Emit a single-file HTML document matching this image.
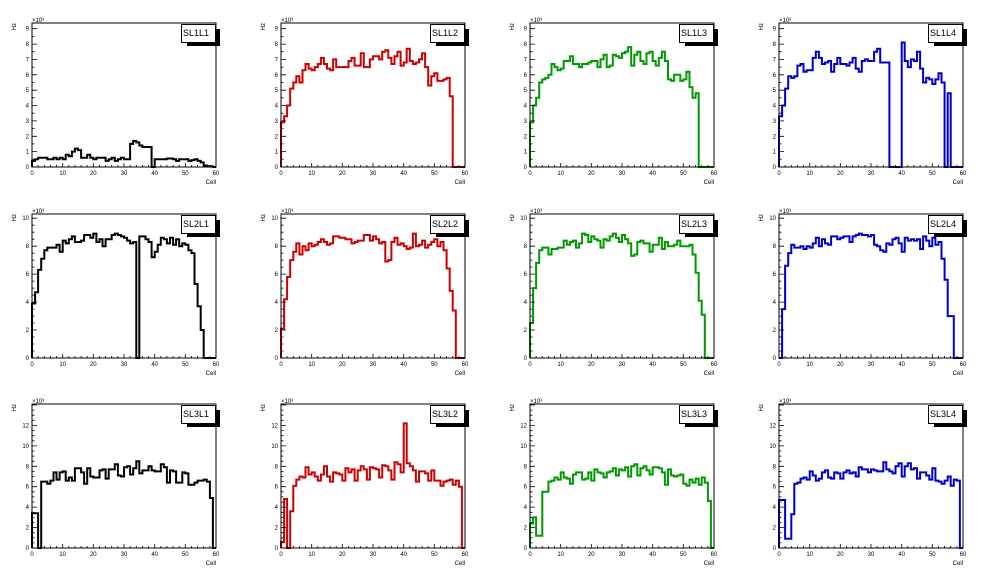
<!DOCTYPE html>
<html><head><meta charset="utf-8"><style>
html,body{margin:0;padding:0;background:#fff}
svg{display:block}
text{font-family:"Liberation Sans",sans-serif;fill:#000}
.t{font-size:6px}
.tl{font-size:6px;text-anchor:end}
.tc{font-size:6px;text-anchor:middle}
.lg{font-size:9px}
</style></head><body>
<svg id="s" width="996" height="572" xmlns="http://www.w3.org/2000/svg">
<rect width="996" height="572" fill="#fff"/>
<!-- Row 1 -->
<g transform="translate(32,23)"><g id="p0"></g>
<text class="tl" x="-3" y="146">0</text><text class="tl" x="-3" y="130.6">1</text><text class="tl" x="-3" y="115.3">2</text><text class="tl" x="-3" y="99.9">3</text><text class="tl" x="-3" y="84.5">4</text><text class="tl" x="-3" y="69.2">5</text><text class="tl" x="-3" y="53.8">6</text><text class="tl" x="-3" y="38.4">7</text><text class="tl" x="-3" y="23">8</text><text class="tl" x="-3" y="7.7">9</text>
<text class="tc" x="0" y="152">0</text><text class="tc" x="30.7" y="152">10</text><text class="tc" x="61.3" y="152">20</text><text class="tc" x="92" y="152">30</text><text class="tc" x="122.7" y="152">40</text><text class="tc" x="153.3" y="152">50</text><text class="tc" x="184" y="152">60</text>
<text class="tl" x="184" y="161">Cell</text><text class="t" x="0" y="-1">×10³</text><text class="tl" transform="translate(-16,0) rotate(-90)">Hz</text>
<text class="lg" x="151" y="13">SL1L1</text></g>
<g transform="translate(281,23)"><g id="p1"></g>
<text class="tl" x="-3" y="146">0</text><text class="tl" x="-3" y="130.6">1</text><text class="tl" x="-3" y="115.3">2</text><text class="tl" x="-3" y="99.9">3</text><text class="tl" x="-3" y="84.5">4</text><text class="tl" x="-3" y="69.2">5</text><text class="tl" x="-3" y="53.8">6</text><text class="tl" x="-3" y="38.4">7</text><text class="tl" x="-3" y="23">8</text><text class="tl" x="-3" y="7.7">9</text>
<text class="tc" x="0" y="152">0</text><text class="tc" x="30.7" y="152">10</text><text class="tc" x="61.3" y="152">20</text><text class="tc" x="92" y="152">30</text><text class="tc" x="122.7" y="152">40</text><text class="tc" x="153.3" y="152">50</text><text class="tc" x="184" y="152">60</text>
<text class="tl" x="184" y="161">Cell</text><text class="t" x="0" y="-1">×10³</text><text class="tl" transform="translate(-16,0) rotate(-90)">Hz</text>
<text class="lg" x="151" y="13">SL1L2</text></g>
<g transform="translate(530,23)"><g id="p2"></g>
<text class="tl" x="-3" y="146">0</text><text class="tl" x="-3" y="130.6">1</text><text class="tl" x="-3" y="115.3">2</text><text class="tl" x="-3" y="99.9">3</text><text class="tl" x="-3" y="84.5">4</text><text class="tl" x="-3" y="69.2">5</text><text class="tl" x="-3" y="53.8">6</text><text class="tl" x="-3" y="38.4">7</text><text class="tl" x="-3" y="23">8</text><text class="tl" x="-3" y="7.7">9</text>
<text class="tc" x="0" y="152">0</text><text class="tc" x="30.7" y="152">10</text><text class="tc" x="61.3" y="152">20</text><text class="tc" x="92" y="152">30</text><text class="tc" x="122.7" y="152">40</text><text class="tc" x="153.3" y="152">50</text><text class="tc" x="184" y="152">60</text>
<text class="tl" x="184" y="161">Cell</text><text class="t" x="0" y="-1">×10³</text><text class="tl" transform="translate(-16,0) rotate(-90)">Hz</text>
<text class="lg" x="151" y="13">SL1L3</text></g>
<g transform="translate(779,23)"><g id="p3"></g>
<text class="tl" x="-3" y="146">0</text><text class="tl" x="-3" y="130.6">1</text><text class="tl" x="-3" y="115.3">2</text><text class="tl" x="-3" y="99.9">3</text><text class="tl" x="-3" y="84.5">4</text><text class="tl" x="-3" y="69.2">5</text><text class="tl" x="-3" y="53.8">6</text><text class="tl" x="-3" y="38.4">7</text><text class="tl" x="-3" y="23">8</text><text class="tl" x="-3" y="7.7">9</text>
<text class="tc" x="0" y="152">0</text><text class="tc" x="30.7" y="152">10</text><text class="tc" x="61.3" y="152">20</text><text class="tc" x="92" y="152">30</text><text class="tc" x="122.7" y="152">40</text><text class="tc" x="153.3" y="152">50</text><text class="tc" x="184" y="152">60</text>
<text class="tl" x="184" y="161">Cell</text><text class="t" x="0" y="-1">×10³</text><text class="tl" transform="translate(-16,0) rotate(-90)">Hz</text>
<text class="lg" x="151" y="13">SL1L4</text></g>
<!-- Row 2 -->
<g transform="translate(32,214)"><g id="p4"></g>
<text class="tl" x="-3" y="146">0</text><text class="tl" x="-3" y="118">2</text><text class="tl" x="-3" y="90.1">4</text><text class="tl" x="-3" y="62.1">6</text><text class="tl" x="-3" y="34.2">8</text><text class="tl" x="-3" y="6.2">10</text>
<text class="tc" x="0" y="152">0</text><text class="tc" x="30.7" y="152">10</text><text class="tc" x="61.3" y="152">20</text><text class="tc" x="92" y="152">30</text><text class="tc" x="122.7" y="152">40</text><text class="tc" x="153.3" y="152">50</text><text class="tc" x="184" y="152">60</text>
<text class="tl" x="184" y="161">Cell</text><text class="t" x="0" y="-1">×10³</text><text class="tl" transform="translate(-16,0) rotate(-90)">Hz</text>
<text class="lg" x="151" y="13">SL2L1</text></g>
<g transform="translate(281,214)"><g id="p5"></g>
<text class="tl" x="-3" y="146">0</text><text class="tl" x="-3" y="118">2</text><text class="tl" x="-3" y="90.1">4</text><text class="tl" x="-3" y="62.1">6</text><text class="tl" x="-3" y="34.2">8</text><text class="tl" x="-3" y="6.2">10</text>
<text class="tc" x="0" y="152">0</text><text class="tc" x="30.7" y="152">10</text><text class="tc" x="61.3" y="152">20</text><text class="tc" x="92" y="152">30</text><text class="tc" x="122.7" y="152">40</text><text class="tc" x="153.3" y="152">50</text><text class="tc" x="184" y="152">60</text>
<text class="tl" x="184" y="161">Cell</text><text class="t" x="0" y="-1">×10³</text><text class="tl" transform="translate(-16,0) rotate(-90)">Hz</text>
<text class="lg" x="151" y="13">SL2L2</text></g>
<g transform="translate(530,214)"><g id="p6"></g>
<text class="tl" x="-3" y="146">0</text><text class="tl" x="-3" y="118">2</text><text class="tl" x="-3" y="90.1">4</text><text class="tl" x="-3" y="62.1">6</text><text class="tl" x="-3" y="34.2">8</text><text class="tl" x="-3" y="6.2">10</text>
<text class="tc" x="0" y="152">0</text><text class="tc" x="30.7" y="152">10</text><text class="tc" x="61.3" y="152">20</text><text class="tc" x="92" y="152">30</text><text class="tc" x="122.7" y="152">40</text><text class="tc" x="153.3" y="152">50</text><text class="tc" x="184" y="152">60</text>
<text class="tl" x="184" y="161">Cell</text><text class="t" x="0" y="-1">×10³</text><text class="tl" transform="translate(-16,0) rotate(-90)">Hz</text>
<text class="lg" x="151" y="13">SL2L3</text></g>
<g transform="translate(779,214)"><g id="p7"></g>
<text class="tl" x="-3" y="146">0</text><text class="tl" x="-3" y="118">2</text><text class="tl" x="-3" y="90.1">4</text><text class="tl" x="-3" y="62.1">6</text><text class="tl" x="-3" y="34.2">8</text><text class="tl" x="-3" y="6.2">10</text>
<text class="tc" x="0" y="152">0</text><text class="tc" x="30.7" y="152">10</text><text class="tc" x="61.3" y="152">20</text><text class="tc" x="92" y="152">30</text><text class="tc" x="122.7" y="152">40</text><text class="tc" x="153.3" y="152">50</text><text class="tc" x="184" y="152">60</text>
<text class="tl" x="184" y="161">Cell</text><text class="t" x="0" y="-1">×10³</text><text class="tl" transform="translate(-16,0) rotate(-90)">Hz</text>
<text class="lg" x="151" y="13">SL2L4</text></g>
<!-- Row 3 -->
<g transform="translate(32,404)"><g id="p8"></g>
<text class="tl" x="-3" y="146">0</text><text class="tl" x="-3" y="125.6">2</text><text class="tl" x="-3" y="105.2">4</text><text class="tl" x="-3" y="84.7">6</text><text class="tl" x="-3" y="64.3">8</text><text class="tl" x="-3" y="43.9">10</text><text class="tl" x="-3" y="23.5">12</text>
<text class="tc" x="0" y="152">0</text><text class="tc" x="30.7" y="152">10</text><text class="tc" x="61.3" y="152">20</text><text class="tc" x="92" y="152">30</text><text class="tc" x="122.7" y="152">40</text><text class="tc" x="153.3" y="152">50</text><text class="tc" x="184" y="152">60</text>
<text class="tl" x="184" y="161">Cell</text><text class="t" x="0" y="-1">×10³</text><text class="tl" transform="translate(-16,0) rotate(-90)">Hz</text>
<text class="lg" x="151" y="13">SL3L1</text></g>
<g transform="translate(281,404)"><g id="p9"></g>
<text class="tl" x="-3" y="146">0</text><text class="tl" x="-3" y="125.6">2</text><text class="tl" x="-3" y="105.2">4</text><text class="tl" x="-3" y="84.7">6</text><text class="tl" x="-3" y="64.3">8</text><text class="tl" x="-3" y="43.9">10</text><text class="tl" x="-3" y="23.5">12</text>
<text class="tc" x="0" y="152">0</text><text class="tc" x="30.7" y="152">10</text><text class="tc" x="61.3" y="152">20</text><text class="tc" x="92" y="152">30</text><text class="tc" x="122.7" y="152">40</text><text class="tc" x="153.3" y="152">50</text><text class="tc" x="184" y="152">60</text>
<text class="tl" x="184" y="161">Cell</text><text class="t" x="0" y="-1">×10³</text><text class="tl" transform="translate(-16,0) rotate(-90)">Hz</text>
<text class="lg" x="151" y="13">SL3L2</text></g>
<g transform="translate(530,404)"><g id="p10"></g>
<text class="tl" x="-3" y="146">0</text><text class="tl" x="-3" y="125.6">2</text><text class="tl" x="-3" y="105.2">4</text><text class="tl" x="-3" y="84.7">6</text><text class="tl" x="-3" y="64.3">8</text><text class="tl" x="-3" y="43.9">10</text><text class="tl" x="-3" y="23.5">12</text>
<text class="tc" x="0" y="152">0</text><text class="tc" x="30.7" y="152">10</text><text class="tc" x="61.3" y="152">20</text><text class="tc" x="92" y="152">30</text><text class="tc" x="122.7" y="152">40</text><text class="tc" x="153.3" y="152">50</text><text class="tc" x="184" y="152">60</text>
<text class="tl" x="184" y="161">Cell</text><text class="t" x="0" y="-1">×10³</text><text class="tl" transform="translate(-16,0) rotate(-90)">Hz</text>
<text class="lg" x="151" y="13">SL3L3</text></g>
<g transform="translate(779,404)"><g id="p11"></g>
<text class="tl" x="-3" y="146">0</text><text class="tl" x="-3" y="125.6">2</text><text class="tl" x="-3" y="105.2">4</text><text class="tl" x="-3" y="84.7">6</text><text class="tl" x="-3" y="64.3">8</text><text class="tl" x="-3" y="43.9">10</text><text class="tl" x="-3" y="23.5">12</text>
<text class="tc" x="0" y="152">0</text><text class="tc" x="30.7" y="152">10</text><text class="tc" x="61.3" y="152">20</text><text class="tc" x="92" y="152">30</text><text class="tc" x="122.7" y="152">40</text><text class="tc" x="153.3" y="152">50</text><text class="tc" x="184" y="152">60</text>
<text class="tl" x="184" y="161">Cell</text><text class="t" x="0" y="-1">×10³</text><text class="tl" transform="translate(-16,0) rotate(-90)">Hz</text>
<text class="lg" x="151" y="13">SL3L4</text></g>
</svg>
<script>
var NS="http://www.w3.org/2000/svg";
var W=184,H=144;
var ymaxR=[9.37,10.3,14.1];
var cols=["#000000","#cc0000","#009900","#0000cc"];
var D=[
{n:60,lead:0,v:[0.4,0.5,0.6,0.6,0.6,0.5,0.5,0.6,0.5,0.6,0.5,0.8,0.7,1.0,1.2,1.1,0.6,0.6,0.8,0.6,0.5,0.6,0.6,0.6,0.4,0.5,0.6,0.4,0.5,0.6,0.5,0.5,1.5,1.7,1.6,1.4,1.3,1.3,1.3,0,0.5,0.5,0.5,0.5,0.55,0.55,0.5,0.4,0.5,0.5,0.5,0.4,0.45,0.5,0.4,0.3,0.1,0.05,0.05,0]},
{n:56,lead:0,v:[2.9,3.3,4.0,5.1,5.5,5.9,5.5,6.3,6.7,6.4,6.3,6.5,6.7,7.1,6.7,6.4,6.3,7.0,6.5,6.5,6.5,6.5,6.9,7.1,6.6,6.6,7.4,6.5,6.5,7.0,7.2,7.2,7.0,7.5,7.6,7.1,6.7,7.2,7.5,6.6,6.8,7.7,6.9,6.7,6.8,7.0,7.4,6.5,5.3,5.9,6.1,5.6,5.6,5.7,5.8,4.6,4.6]},
{n:55,lead:0,v:[2.9,4.0,4.5,5.5,5.7,5.8,6.0,6.7,6.5,6.3,6.4,6.9,6.9,7.2,6.7,6.7,6.5,6.7,6.7,6.8,6.9,6.9,6.5,7.0,7.3,6.5,6.6,7.3,7.2,7.1,7.4,7.5,7.8,6.6,7.3,7.5,6.9,6.7,7.4,7.5,6.9,6.6,7.1,7.5,6.9,5.7,5.6,6.0,6.0,5.6,5.7,6.2,5.2,4.5,4.8]},
{n:56,lead:0,v:[3.3,4.0,5.1,5.9,5.8,5.9,6.6,6.7,6.2,6.3,6.3,7.1,7.5,7.1,6.7,6.8,6.9,6.2,6.7,7.1,6.7,6.7,6.6,6.8,7.1,6.4,6.2,6.9,7.0,6.9,6.9,7.5,7.7,6.8,6.8,6.8,0,0,0,0,8.1,6.9,6.5,7.0,6.9,7.5,6.4,5.5,5.8,5.7,5.4,5.7,6.1,5.5,0,4.8]},
{n:56,lead:0,v:[3.9,4.7,6.3,7.1,7.7,7.9,7.9,7.9,8.1,7.6,8.4,8.2,8.5,8.7,8.3,8.3,8.4,8.8,8.8,8.6,8.9,8.3,8.5,8.0,8.5,8.5,8.8,8.9,8.8,8.7,8.6,8.4,8.2,8.3,0,8.7,8.7,8.5,8.3,7.2,7.6,8.1,8.6,8.5,8.2,8.6,8.1,8.5,8.0,8.2,8.1,7.7,7.5,5.3,3.7,2.0]},
{n:57,lead:0,v:[2.1,4.2,5.8,7.0,7.6,8.2,7.4,8.0,7.7,8.2,8.0,8.1,8.3,8.5,8.3,8.1,8.2,8.7,8.7,8.6,8.6,8.5,8.5,8.2,8.3,8.4,8.4,8.8,8.8,8.4,8.7,8.5,8.2,8.3,6.9,7.0,8.3,8.6,8.1,8.2,8.0,7.8,7.9,8.9,8.0,8.1,8.4,7.9,8.1,8.3,8.5,8.0,8.3,7.7,6.4,4.8,3.4]},
{n:57,lead:0,v:[2.5,5.0,6.8,7.7,7.9,7.9,7.4,7.8,7.8,7.9,7.9,8.4,8.1,8.3,8.4,7.9,8.2,8.9,8.8,8.3,8.7,8.5,8.4,7.9,8.5,8.4,8.7,8.9,8.6,8.3,8.8,8.5,8.2,7.3,7.4,8.3,8.4,8.2,8.2,7.6,8.1,8.1,8.6,7.8,8.3,8.0,8.0,8.1,8.4,8.0,8.0,8.0,8.1,7.4,6.1,4.1,3.1]},
{n:57,lead:0,v:[0,3.5,6.6,7.5,8.1,7.9,7.9,8.0,7.8,8.0,7.9,8.2,8.6,8.0,8.5,8.2,8.1,8.7,8.7,8.5,8.6,8.7,8.7,8.3,8.7,8.8,8.9,8.8,8.8,8.7,8.8,8.1,8.0,7.7,7.6,8.2,8.1,8.5,8.6,8.2,7.6,8.6,8.4,8.5,8.4,8.5,7.8,8.7,8.4,8.0,8.6,8.1,8.3,7.1,5.6,3.0,3.0]},
{n:59,lead:3,v:[3.4,3.4,0,6.5,6.3,6.6,7.4,6.7,7.4,7.5,6.6,6.9,6.6,7.8,7.4,6.3,7.8,7.0,6.9,6.9,7.6,7.7,6.8,7.7,8.2,7.1,7.0,7.9,8.0,7.2,7.8,8.5,7.3,7.6,8.0,7.6,7.5,7.5,8.2,7.9,6.4,7.6,7.5,6.4,7.4,7.3,6.2,6.2,6.4,6.6,6.6,6.7,6.5,4.9]},
{n:59,lead:0,v:[0.6,4.8,0,3.6,6.1,6.7,7.0,6.9,7.9,7.2,7.4,7.0,6.6,7.2,8.0,7.0,6.5,7.4,7.3,7.2,6.6,7.8,7.4,7.7,6.6,7.6,8.0,7.7,6.7,7.9,7.8,7.7,6.9,8.1,8.0,7.6,6.7,8.4,8.2,7.4,12.2,8.3,8.0,7.6,6.5,7.5,7.5,7.3,6.6,7.6,6.6,6.6,6.1,6.5,6.6,6.7,6.2,6.6,6.0]},
{n:59,lead:4,v:[2.4,3.0,1.2,1.2,5.5,6.5,6.6,6.9,6.7,7.4,6.9,6.8,6.3,7.2,7.4,7.4,6.7,6.8,7.4,6.6,7.7,7.4,7.3,6.9,7.4,7.5,7.8,7.1,7.7,7.6,7.9,7.0,8.0,8.2,7.1,7.8,8.0,7.6,7.2,7.9,7.9,7.8,7.4,6.2,7.7,7.1,7.0,7.1,7.2,6.3,6.1,6.7,6.4,6.8,6.2,6.9,6.4,4.6]},
{n:59,lead:4,v:[4.7,4.7,0.9,0.9,3.3,6.3,6.4,6.8,6.9,6.7,7.5,7.1,6.6,6.8,7.4,7.6,6.9,6.8,7.4,7.3,6.8,7.4,7.6,7.3,7.4,7.0,7.9,7.7,7.7,7.4,7.7,7.6,7.5,7.5,8.4,7.7,7.5,7.3,8.0,8.3,7.0,8.0,8.3,7.7,7.8,6.8,7.4,7.4,7.1,6.7,7.8,6.6,6.5,6.3,6.6,7.0,6.1,6.7,6.6,5.6]}
];
function el(t,a,p){var e=document.createElementNS(NS,t);for(var k in a)e.setAttribute(k,a[k]);p.appendChild(e);return e;}
for(var i=0;i<12;i++){
 var g=document.getElementById("p"+i),r=Math.floor(i/4),c=i%4,ym=ymaxR[r];
 var d=D[i],src=d.v,n=d.n,ld=d.lead,vals=[];
 var body=src.slice(ld),nb=n-ld;
 for(var b=0;b<60;b++){
  if(b<ld) vals.push(src[b]);
  else if(b<n){ var k=b-ld; vals.push(body.length==nb?body[k]:body[Math.min(body.length-1,Math.floor(k*body.length/nb))]); }
  else vals.push(0);
 }
 var Y=function(v){return H-Math.min(v,ym)*H/ym;};
 var X=function(x){return x*W/60;};
 var p="M0,"+H;
 for(var b=0;b<60;b++){ p+=" V"+Y(vals[b]).toFixed(1)+" H"+X(b+1).toFixed(1); }
 p+=" V"+H;
 el("path",{d:p,fill:"none",stroke:cols[c],"stroke-width":2,"stroke-linejoin":"miter"},g);
 var tk="";
 for(var x=0;x<=60;x+=2){var L=(x%10==0)?4:2;tk+="M"+X(x).toFixed(1)+","+H+"v-"+L;}
 var maj=(r==0)?1:2,mn=0.5;
 for(var v=0;v<=ym+1e-6;v+=mn){var isM=Math.abs(v/maj-Math.round(v/maj))<1e-6;tk+="M0,"+Y(v).toFixed(1)+"h"+(isM?5:2.5);}
 el("path",{d:tk,fill:"none",stroke:"#000","stroke-width":0.8},g);
 el("rect",{x:0,y:0,width:W,height:H,fill:"none",stroke:"#000","stroke-width":1},g);
 el("rect",{x:155,y:6,width:33,height:17,fill:"#000"},g);
 el("rect",{x:149.5,y:1.5,width:34,height:18,fill:"#fff",stroke:"#000","stroke-width":1},g);
}
</script>
</body></html>
